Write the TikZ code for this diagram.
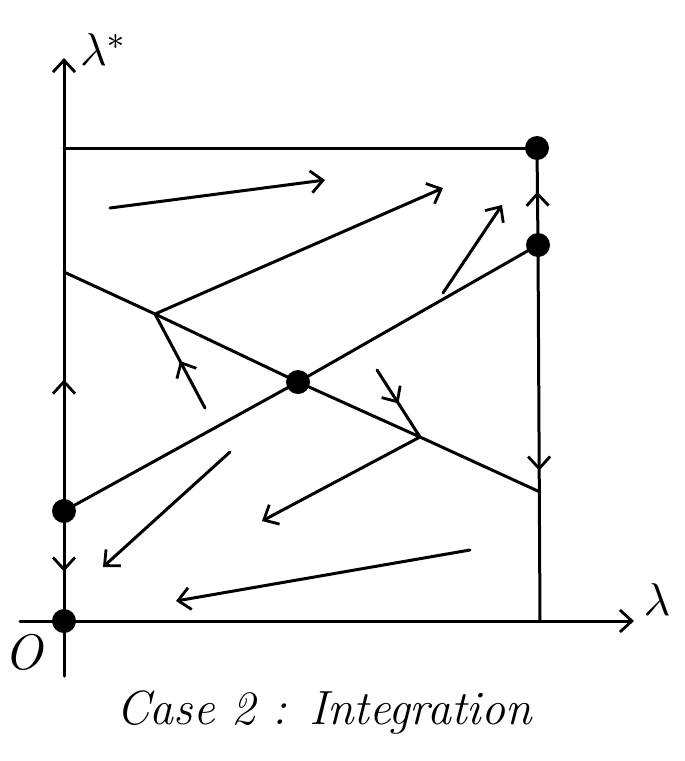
\documentclass[tikz,border=0pt]{standalone}
\usetikzlibrary{arrows.meta,decorations.markings}
\begin{document}
\begin{tikzpicture}[x=1pt,y=-1pt,line width=3pt,line cap=round,
  dot/.style={circle,fill=black,inner sep=0pt,minimum size=24pt},
  tip/.style={-{Straight Barb[length=12pt,width=22pt,line width=2.8pt]}},
  midup/.style={postaction={decorate},decoration={markings,mark=at position #1 with {\arrow{Straight Barb[length=12pt,width=22pt,line width=2.8pt]}}}},
  lbl/.style={inner sep=0pt}]
\useasboundingbox (0,0) rectangle (685,761);
% axes
\coordinate (ybot) at (64,676);
\coordinate (ytop) at (64,58);
\coordinate (xl) at (20,621);
\coordinate (xr) at (634,621);
\draw[tip] (ybot) -- (ytop);
\draw[tip] (xl) -- (xr);
\node[lbl,scale=4.6] (lstar) at (104,50) {$\lambda^{*}$};
\node[lbl,scale=4.6] (lx) at (657,600) {$\lambda$};
\node[lbl,scale=5] (o) at (24,652) {\itshape O};
% box
\coordinate (tl) at (64,148);
\coordinate (br) at (540,621);
\node[dot] (tr) at (537,148) {};
\node[dot] (r2) at (538,245) {};
\node[dot] (c) at (298,382) {};
\node[dot] (l1) at (64,511) {};
\node[dot] (o0) at (64,621) {};
\draw (tl) -- (tr.center);
\draw[midup=0.55] (r2.center) -- (tr.center);
\draw[midup=0.6] (r2.center) -- (br);
\draw[midup=0.55] (l1.center) -- (64,272);
\draw[midup=0.55] (l1.center) -- (o0.center);
% diagonal lines
\coordinate (la) at (64,272);
\coordinate (j1) at (155,314);
\coordinate (j2) at (420,437);
\coordinate (rb) at (540,492);
\draw (la) -- (j1) -- (c.center) -- (j2) -- (rb);
\draw (l1.center) -- (c.center) -- (r2.center);
% branches from junctions
\coordinate (e1) at (443,188);
\draw[tip] (j1) -- (e1);
\coordinate (s1) at (205,408);
\draw[midup=0.5] (s1) -- (j1);
\coordinate (s2) at (377,370);
\draw[midup=0.5] (s2) -- (j2);
\coordinate (e2) at (262,521);
\draw[tip] (j2) -- (e2);
% free arrows
\coordinate (a1) at (110,208);
\coordinate (b1) at (325,180);
\draw[tip] (a1) -- (b1);
\coordinate (a2) at (443,293);
\coordinate (b2) at (502,205);
\draw[tip] (a2) -- (b2);
\coordinate (a3) at (230,452);
\coordinate (b3) at (103,567);
\draw[tip] (a3) -- (b3);
\coordinate (a4) at (470,550);
\coordinate (b4) at (176,601);
\draw[tip] (a4) -- (b4);
% caption
\node[lbl] (cap) at (324,712) {\fontsize{48}{56}\selectfont\itshape Case 2 : Integration};
\end{tikzpicture}
\end{document}
